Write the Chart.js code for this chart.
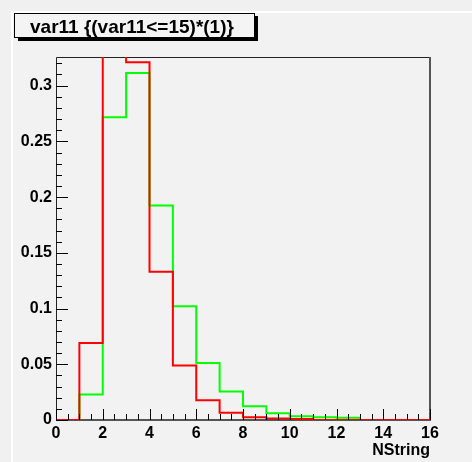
<!DOCTYPE html>
<html>
<head>
<meta charset="utf-8">
<script src="https://cdn.jsdelivr.net/npm/chart.js@4"></script>
<style>
  html, body { margin: 0; padding: 0; background: #f2f2f2; }
  canvas { display: block; }
</style>
</head>
<body>
<canvas id="c" width="472" height="462"></canvas>
<script>
// === DATA ===
const histTitle = "var11 {(var11<=15)*(1)}";
const axisTitle = "NString";
const binLow = [0, 1, 2, 3, 4, 5, 6, 7, 8, 9, 10, 11, 12, 13, 14, 15];
const binHigh = 16;
const redValues   = [0, 0.069, 0.40, 0.321, 0.133, 0.0488, 0.0178, 0.0064, 0.0025, 0.0013, 0.001, 0, 0, 0, 0, 0];
const greenValues = [0, 0.0228, 0.2717, 0.3114, 0.1925, 0.102, 0.0512, 0.0255, 0.0124, 0.0061, 0.0034, 0.0025, 0.002, 0, 0, 0];
const xRange = [0, 16];
const yRange = [0, 0.3257];

// histogram outline: one point per bin low edge + closing edge, drawn stepped
function toSteps(vals) {
  let pts = binLow.map((x, i) => ({ x: x, y: vals[i] }));
  pts.push({ x: binHigh, y: vals[vals.length - 1] });
  return pts;
}

const FONT = "'Liberation Sans', Arial, Helvetica, sans-serif";

// === PAD + TITLE BOX ===
const padPlugin = {
  id: 'pad',
  beforeDraw(chart) {
    let ctx = chart.ctx;
    ctx.save();
    ctx.fillStyle = '#f0f0f0';
    ctx.fillRect(0, 0, 472, 462);
    ctx.fillStyle = '#f2f2f2';
    ctx.fillRect(13, 13, 459, 449);
    ctx.fillStyle = '#ffffff';
    ctx.fillRect(11, 11, 461, 2);
    ctx.fillRect(11, 11, 2, 451);
    ctx.restore();
  },
  afterDraw(chart) {
    let ctx = chart.ctx;
    ctx.save();
    // shadow
    ctx.fillStyle = '#000';
    ctx.fillRect(18, 38, 240, 3);
    ctx.fillRect(254, 16, 4, 25);
    // box
    ctx.fillStyle = '#f4f4f4';
    ctx.fillRect(14.5, 13.5, 240, 24);
    ctx.strokeStyle = '#000';
    ctx.lineWidth = 1;
    ctx.strokeRect(14.5, 13.5, 240, 24);
    ctx.font = "bold 19px " + FONT;
    ctx.fillStyle = '#000';
    ctx.textBaseline = 'alphabetic';
    ctx.fillText(histTitle, 30, 33);
    ctx.restore();
  }
};

// === FRAME + INNER TICKS ===
const framePlugin = {
  id: 'frame',
  beforeDatasetsDraw(chart) {
    let ctx = chart.ctx, a = chart.chartArea;
    ctx.save();
    ctx.strokeStyle = '#222';
    ctx.lineWidth = 1;
    ctx.beginPath();
    ctx.moveTo(a.left + 0.5, a.bottom);
    ctx.lineTo(a.left + 0.5, a.top + 0.5);
    ctx.lineTo(a.right, a.top + 0.5);
    ctx.stroke();
    ctx.strokeStyle = '#555';
    ctx.lineWidth = 2;
    ctx.beginPath();
    ctx.moveTo(a.right, a.top);
    ctx.lineTo(a.right, a.bottom);
    ctx.lineTo(a.left, a.bottom);
    ctx.stroke();
    ctx.restore();
  },
  afterDatasetsDraw(chart) {
    let ctx = chart.ctx, a = chart.chartArea;
    let xs = chart.scales.x, ys = chart.scales.y;
    ctx.save();
    ctx.strokeStyle = '#000';
    ctx.lineWidth = 1;
    ctx.beginPath();
    for (let i = 0; i <= 32; i++) {
      let v = xRange[0] + i * 0.5;
      let px = Math.round(xs.getPixelForValue(v)) + 0.5;
      let len = (i % 4 === 0) ? 11 : 6;
      ctx.moveTo(px, a.bottom);
      ctx.lineTo(px, a.bottom - len);
    }
    for (let j = 0; j <= 32; j++) {
      let v = j * 0.01;
      if (v > yRange[1]) break;
      let py = Math.round(ys.getPixelForValue(v)) + 0.5;
      let len = (j % 5 === 0) ? 12 : 6;
      ctx.moveTo(a.left, py);
      ctx.lineTo(a.left + len, py);
    }
    ctx.stroke();
    ctx.restore();
  }
};

new Chart(document.getElementById('c'), {
  type: 'line',
  data: {
    datasets: [{
      label: 'red',
      data: toSteps(redValues),
      borderColor: '#ff0000',
      borderWidth: 2,
      stepped: true,
      pointRadius: 0,
      fill: false
    }, {
      label: 'green',
      data: toSteps(greenValues),
      borderColor: '#00ff00',
      borderWidth: 2,
      stepped: true,
      pointRadius: 0,
      fill: false
    }]
  },
  options: {
    responsive: false,
    animation: false,
    devicePixelRatio: 1,
    layout: { padding: { top: 57, right: 42, left: 0, bottom: 0 } },
    plugins: {
      legend: { display: false },
      tooltip: { enabled: false }
    },
    scales: {
      x: {
        type: 'linear',
        min: xRange[0],
        max: xRange[1],
        grid: { display: false, drawTicks: false },
        border: { display: false },
        ticks: {
          stepSize: 2,
          autoSkip: false,
          maxRotation: 0,
          padding: 4,
          color: '#000',
          font: { family: FONT, weight: 'bold', size: 16 }
        },
        title: {
          display: true,
          text: axisTitle,
          align: 'end',
          color: '#000',
          padding: { top: 0, bottom: 2 },
          font: { family: FONT, weight: 'bold', size: 16 }
        },
        afterFit(s) { s.height = 42; }
      },
      y: {
        min: yRange[0],
        max: yRange[1],
        grid: { display: false, drawTicks: false },
        border: { display: false },
        ticks: {
          stepSize: 0.05,
          includeBounds: false,
          autoSkip: false,
          padding: 4,
          color: '#000',
          font: { family: FONT, weight: 'bold', size: 16 },
          callback: v => String(+v.toFixed(2))
        },
        afterFit(s) { s.width = 56; }
      }
    }
  },
  plugins: [padPlugin, framePlugin]
});
</script>
</body>
</html>
